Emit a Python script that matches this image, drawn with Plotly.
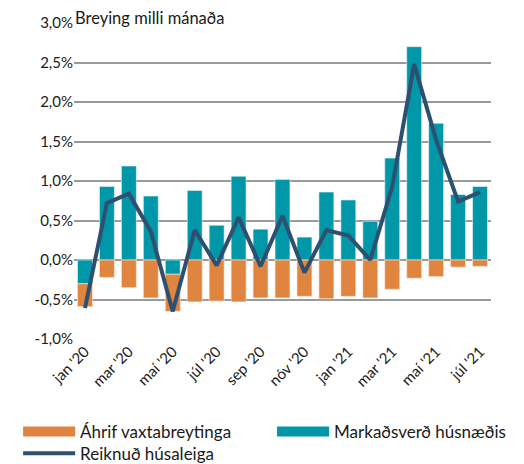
import plotly.graph_objects as go

months = ["jan '20", "feb '20", "mar '20", "apr '20", "maí '20", "jún '20", "júl '20",
          "ágú '20", "sep '20", "okt '20", "nóv '20", "des '20", "jan '21", "feb '21",
          "mar '21", "apr '21", "maí '21", "jún '21", "júl '21"]
markadsverd = [-0.30, 0.93, 1.19, 0.81, -0.18, 0.88, 0.44, 1.06, 0.39, 1.02, 0.29, 0.86,
               0.76, 0.49, 1.29, 2.70, 1.73, 0.83, 0.93]
ahrif_vaxta = [-0.29, -0.22, -0.35, -0.48, -0.47, -0.53, -0.52, -0.53, -0.48, -0.48, -0.46,
               -0.49, -0.46, -0.48, -0.37, -0.23, -0.21, -0.09, -0.08]
reiknud = [-0.61, 0.72, 0.84, 0.36, -0.65, 0.38, -0.07, 0.54, -0.08, 0.56, -0.16, 0.38,
           0.31, 0.00, 0.93, 2.48, 1.52, 0.74, 0.86]
tick_months = months[::2]
y_ticks = [-1.0, -0.5, 0.0, 0.5, 1.0, 1.5, 2.0, 2.5, 3.0]
y_ticktext = ["-1,0%", "-0,5%", "0,0%", "0,5%", "1,0%", "1,5%", "2,0%", "2,5%", "3,0%"]

ORANGE = "#E08540"
TEAL = "#0097A9"
NAVY = "#2E5070"
GRID = "#9A9A9A"
FONT = "Lato"
TXT = "#1a1a1a"

fig = go.Figure()
fig.add_trace(go.Bar(x=months, y=markadsverd, marker=dict(color=TEAL, line=dict(width=0.6, color="#e8f4f6")),
                     showlegend=False, name="Markaðsverð húsnæðis"))
fig.add_trace(go.Bar(x=months, y=ahrif_vaxta, marker=dict(color=ORANGE, line=dict(width=0.6, color="#f8e8dc")),
                     showlegend=False, name="Áhrif vaxtabreytinga"))
fig.add_trace(go.Scatter(x=months, y=reiknud, mode="lines", line=dict(color=NAVY, width=4),
                         showlegend=False, name="Reiknuð húsaleiga"))

# legend entries
fig.add_trace(go.Scatter(x=[None], y=[None], mode="lines", line=dict(color=ORANGE, width=10),
                         name="Áhrif vaxtabreytinga", legend="legend"))
fig.add_trace(go.Scatter(x=[None], y=[None], mode="lines", line=dict(color=TEAL, width=10),
                         name="Markaðsverð húsnæðis", legend="legend2"))
fig.add_trace(go.Scatter(x=[None], y=[None], mode="lines", line=dict(color=NAVY, width=4),
                         name="Reiknuð húsaleiga", legend="legend3"))

leg_common = dict(xanchor="left", yanchor="top", itemwidth=52, bgcolor="rgba(0,0,0,0)",
                  font=dict(size=17, family=FONT, color=TXT))
fig.update_layout(
    width=516, height=456,
    margin=dict(l=66, r=33, t=15, b=125, autoexpand=False),
    barmode="relative", bargap=0.32,
    plot_bgcolor="white", paper_bgcolor="white",
    font=dict(family=FONT, size=15, color=TXT),
    legend=dict(x=-0.134, y=-0.237, **leg_common),
    legend2=dict(x=0.475, y=-0.237, **leg_common),
    legend3=dict(x=-0.134, y=-0.306, **leg_common),
    annotations=[dict(text="Breying milli mánaða", xref="paper", yref="paper", x=0, y=1,
                      xanchor="left", yanchor="bottom", yshift=-6, borderpad=0, showarrow=False,
                      font=dict(size=16.5, family=FONT, color=TXT))],
)
fig.update_xaxes(type="category", tickmode="array", tickvals=tick_months, ticktext=tick_months,
                 tickangle=-45, showgrid=False, showline=False, ticks="", automargin=False,
                 tickfont=dict(size=15, family=FONT, color=TXT))
fig.update_yaxes(range=[-1.0, 3.0], tickmode="array", tickvals=y_ticks, ticktext=y_ticktext,
                 showgrid=True, gridcolor=GRID, gridwidth=2, zeroline=True,
                 zerolinecolor=GRID, zerolinewidth=2, ticks="", automargin=False,
                 tickfont=dict(size=15, family=FONT, color=TXT))

fig.write_html("out.html")
